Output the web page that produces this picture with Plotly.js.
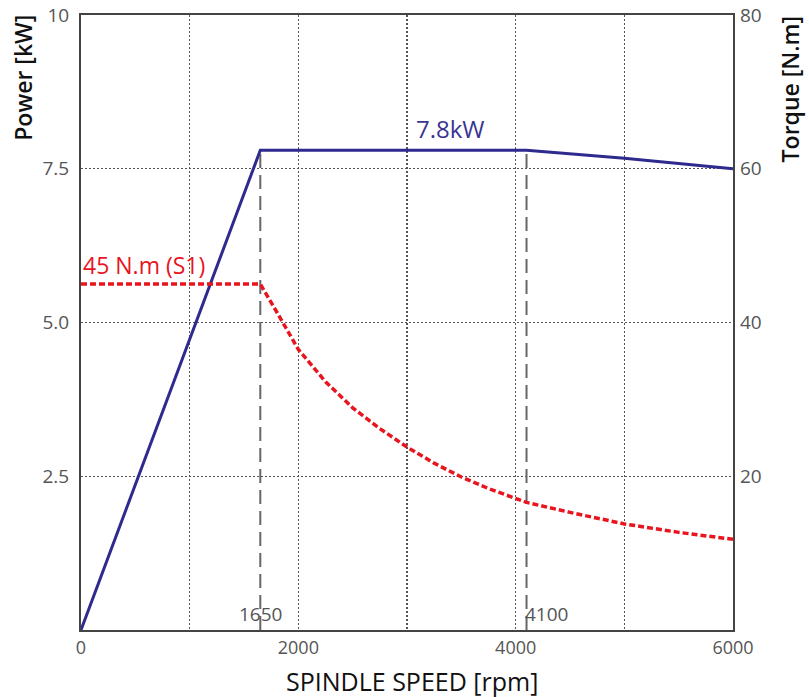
<!DOCTYPE html>
<html><head><meta charset="utf-8">
<script src="https://cdn.plot.ly/plotly-3.0.1.min.js"></script>
<style>html,body{margin:0;padding:0;background:#fff}</style>
</head><body>
<div id="chart" style="width:809px;height:697px"></div>
<script>
// Power curve (kW)
var powerSpeed = [0, 1650, 4100, 5000, 6000];
var powerKW    = [0, 7.8, 7.8, 7.67, 7.5];
// Torque curve S1 (N.m)
var torqueSpeed = [0, 1650, 1800, 2000, 2250, 2500, 2750, 3000, 3250, 3500, 3750, 4000, 4100, 4500, 5000, 5500, 6000];
var torqueNm    = [45, 45, 41.4, 36.5, 32.3, 28.9, 26.2, 23.8, 21.7, 19.9, 18.4, 17.1, 16.6, 15.3, 13.8, 12.7, 11.8];
// Marker speeds
var markSpeeds = [1650, 4100];
var markLabels = ['1650', '4100'];
var markPower  = 7.8;
var xTicks = [0, 1000, 2000, 3000, 4000, 5000, 6000];
var xTickText = ['0', '', '2000', '', '4000', '', '6000'];
var yTicks = [2.5, 5, 7.5, 10];
var yTickText = ['2.5', '5.0', '7.5', '10'];
var y2Ticks = [20, 40, 60, 80];

var FONT = 'Open Sans, Noto Sans, sans-serif';
var traces = [];
markSpeeds.forEach(function (s) {
  traces.push({x: [s, s], y: [0, markPower], mode: 'lines', xaxis: 'x', yaxis: 'y',
    line: {color: '#666', width: 2, dash: '14px,7px'}, hoverinfo: 'skip'});
});
traces.push({x: torqueSpeed, y: torqueNm, mode: 'lines', yaxis: 'y2', line: {color: '#e8141e', width: 3.5, dash: '6px,3px'}});
traces.push({x: powerSpeed, y: powerKW, mode: 'lines', yaxis: 'y', line: {color: '#2e2a8e', width: 3}});

var tickFont = {size: 19, color: '#555', family: FONT};
var titleFont = {size: 23, color: '#111', family: FONT, weight: 600};
var layout = {
  width: 809, height: 697,
  margin: {l: 81, r: 76, t: 15, b: 67},
  paper_bgcolor: '#fff', plot_bgcolor: '#fff',
  showlegend: false,
  font: {family: FONT, color: '#555', size: 19},
  xaxis: {range: [0, 6000], tickvals: xTicks, ticktext: xTickText, ticks: '',
    showgrid: true, gridcolor: '#555', griddash: '2px,2px', gridwidth: 1.2,
    showline: true, linecolor: '#444', linewidth: 2, mirror: true, zeroline: false,
    tickfont: {size: 18, color: '#555', family: FONT}, ticklabelstandoff: 0},
  yaxis: {range: [0, 10], tickvals: yTicks, ticktext: yTickText, ticks: '',
    showgrid: true, gridcolor: '#555', griddash: '2px,2px', gridwidth: 1.2,
    showline: true, linecolor: '#444', linewidth: 2, mirror: true, zeroline: false,
    tickfont: tickFont, ticklabelstandoff: 6},
  yaxis2: {range: [0, 80], overlaying: 'y', side: 'right', tickvals: y2Ticks, ticks: '',
    showgrid: false, zeroline: false, showline: false,
    tickfont: tickFont, ticklabelstandoff: 6},
  annotations: [
    {x: 3400, y: 7.8, xref: 'x', yref: 'y', text: '7.8kW', showarrow: false, yanchor: 'bottom', yshift: 3,
      font: {size: 24, color: '#3a3592', family: FONT}},
    {x: 0, y: 45, xref: 'x', yref: 'y2', text: '45 N.m (S1)', showarrow: false, xanchor: 'left', yanchor: 'bottom', yshift: 1,
      font: {size: 23, color: '#e8141e', family: FONT}},
    {x: markSpeeds[0], y: 0, xref: 'x', yref: 'y', text: markLabels[0], showarrow: false, yanchor: 'bottom', yshift: 1,
      font: {size: 19, color: '#555', family: FONT}},
    {x: markSpeeds[1], y: 0, xref: 'x', yref: 'y', text: markLabels[1], showarrow: false, xanchor: 'left', yanchor: 'bottom', yshift: 1, xshift: -4,
      font: {size: 19, color: '#555', family: FONT}},
    {x: -0.088, y: 1.003, xref: 'paper', yref: 'paper', text: 'Power [kW]', textangle: -90, showarrow: false,
      xanchor: 'center', yanchor: 'top', font: titleFont},
    {x: 1.087, y: 1.003, xref: 'paper', yref: 'paper', text: 'Torque [N.m]', textangle: -90, showarrow: false,
      xanchor: 'center', yanchor: 'top', font: titleFont},
    {x: 0.507, y: -0.083, xref: 'paper', yref: 'paper', text: 'SPINDLE SPEED [rpm]', showarrow: false,
      xanchor: 'center', yanchor: 'middle', font: {size: 25, color: '#111', family: FONT, weight: 500}}
  ]
};
Plotly.newPlot('chart', traces, layout, {displayModeBar: false, staticPlot: true});
</script>
</body></html>
